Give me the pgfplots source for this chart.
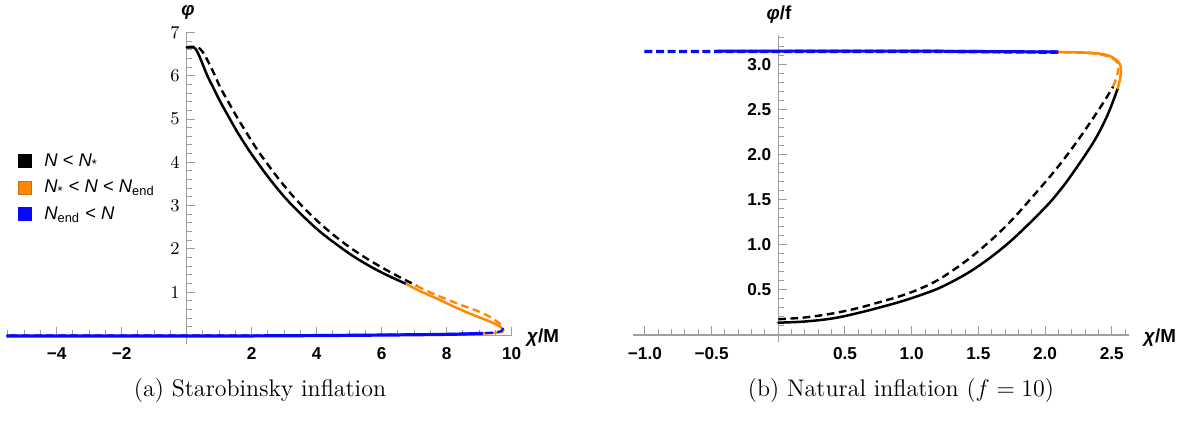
\documentclass[border=0pt]{standalone}
\usepackage{fontspec}
\usepackage{pgfplots}
\pgfplotsset{compat=1.18}
\newfontfamily\lsans{Liberation Sans}

\definecolor{morange}{RGB}{255,136,0}
\definecolor{morangeedge}{RGB}{205,105,20}
\definecolor{mblue}{RGB}{8,8,250}
\definecolor{axgray}{gray}{0.62}

\newcommand\ticksfont{\lsans\bfseries\fontsize{8.6}{10}\selectfont}
\newcommand\labfont{\lsans\bfseries\fontsize{9.4}{11}\selectfont}
\newcommand\legfont{\lsans\fontsize{9.2}{11}\selectfont}
\newcommand\legsquare[2]{\filldraw[line width=0.4pt, draw=#1, fill=#2] (0pt,-3.3pt) rectangle (6.6pt,3.3pt);}

\pgfplotsset{
  mma/.style={
    scale only axis,
    clip=false,
    axis lines=middle,
    axis line style={axgray, line width=0.6pt, -},
    tick style={axgray, line width=0.5pt},
    ticklabel style={font=\ticksfont, black},
    xticklabel style={yshift=-2.6pt},
    xlabel style={font=\labfont, anchor=center},
    ylabel style={font=\labfont, anchor=center, rotate=0},
    tick align=inside,
  },
  solidline/.style={line width=1.25pt, line join=round, line cap=round, smooth, tension=0.6},
  dashline/.style={line width=1.2pt, dash pattern=on 3.8pt off 2.3pt, smooth, tension=0.6},
}

\begin{document}
\begin{tikzpicture}
\path[use as bounding box] (0,0) rectangle (594pt,210.5pt);

% Starobinsky: trajectory in the (chi, phi) plane
\begin{axis}[mma,
  at={(3.15pt,38.6pt)}, anchor=south west,
  width=252.7pt, height=155.7pt,
  xmin=-5.55, xmax=10, ymin=-0.19, ymax=7,
  xtick={-4,-2,2,4,6,8,10},
  xticklabels={−4,−2,2,4,6,8,10},
  minor xtick={-5.5,-5,...,10},
  ytick={1,2,3,4,5,6,7},
  minor ytick={0.2,0.4,...,7},
  xlabel={\textit{χ}/M},
  xlabel style={at={(axis description cs:1.062,0.0186)}},
  ylabel={\textit{φ}},
  ylabel style={at={(axis description cs:0.3595,1.0627)}},
  legend style={at={(axis description cs:0.0215,0.628)}, anchor=north west,
    draw=none, fill=none, font=\legfont,
    row sep=0.6pt, inner sep=0pt,
    nodes={inner sep=2.4pt}},
  legend cell align=left,
]
\addlegendimage{legend image code/.code={\legsquare{black}{black}}}
\addlegendentry{\hspace{4pt}\textit{N} < \textit{N}\textsubscript{*}}
\addlegendimage{legend image code/.code={\legsquare{morangeedge}{morange}}}
\addlegendentry{\hspace{4pt}\textit{N}\textsubscript{*} < \textit{N} < \textit{N}\textsubscript{end}}
\addlegendimage{legend image code/.code={\legsquare{mblue}{mblue}}}
\addlegendentry{\hspace{4pt}\textit{N}\textsubscript{end} < \textit{N}}

% N < N_*
\addplot[black, solidline, forget plot] coordinates {
 (0,6.65) (0.22,6.65) (0.32,6.56) (0.43,6.38) (0.63,6.01) (0.84,5.69)
 (1.04,5.39) (1.30,5.04) (1.55,4.71) (1.81,4.40) (2.06,4.12) (2.57,3.60)
 (3.08,3.14) (3.59,2.75) (4.10,2.40) (4.62,2.10) (5.13,1.83) (5.64,1.60)
 (6.15,1.40) (6.76,1.19)};
\addplot[black, dashline, forget plot] coordinates {
 (0,6.66) (0.32,6.66) (0.48,6.56) (0.63,6.37) (0.84,6.05) (1.04,5.72)
 (1.30,5.37) (1.55,5.04) (1.86,4.66) (2.11,4.36) (2.37,4.08) (2.88,3.57)
 (3.39,3.12) (3.90,2.73) (4.41,2.39) (4.92,2.09) (5.43,1.83) (5.94,1.60)
 (6.45,1.39) (7.07,1.15)};
% N_* < N < N_end
\addplot[morange, solidline, forget plot] coordinates {
 (6.76,1.19) (7.17,1.03) (7.68,0.86) (8.19,0.68) (8.70,0.51) (9.21,0.36)
 (9.52,0.26) (9.67,0.19) (9.74,0.13) (9.72,0.09) (9.57,0.07) (9.31,0.055)
 (9.11,0.05)};
\addplot[morange, dashline, forget plot] coordinates {
 (7.07,1.15) (7.48,1.00) (7.99,0.84) (8.50,0.69) (9.01,0.55) (9.31,0.44)
 (9.52,0.34) (9.67,0.25) (9.74,0.17)};
% N_end < N
\addplot[mblue, line width=1.6pt, forget plot] coordinates {
 (9.11,0.05) (8.7,0.04) (8.2,0.03) (7.2,0.02) (6.1,0.012) (5.1,0.006)
 (4.1,0.0) (3.1,-0.004) (2,-0.008) (1,-0.01) (0,-0.01) (-2,-0.012)
 (-4,-0.012) (-5.55,-0.012)};
\addplot[mblue, line width=1.1pt, dash pattern=on 3.8pt off 2.3pt, forget plot] coordinates {
 (9.74,0.17) (9.68,0.10) (9.4,0.065) (9.0,0.05) (8,0.035) (6,0.015)
 (4,0.005) (2,0.0) (0,0.0) (-2,0.0) (-4,0.0) (-5.55,0.0)};
\end{axis}

% Natural inflation, f = 10
\begin{axis}[mma,
  at={(316.45pt,39.4pt)}, anchor=south west,
  width=248.1pt, height=153.45pt,
  xmin=-1.09, xmax=2.63, ymin=-0.08, ymax=3.33,
  xtick={-1,-0.5,0.5,1,1.5,2,2.5},
  xticklabels={−1.0,−0.5,0.5,1.0,1.5,2.0,2.5},
  minor xtick={-1.0,-0.9,...,2.6},
  ytick={0.5,1,1.5,2,2.5,3},
  yticklabels={0.5,1.0,1.5,2.0,2.5,3.0},
  minor ytick={0.1,0.2,...,3.3},
  xlabel={\textit{χ}/M},
  xlabel style={at={(axis description cs:1.062,0.0137)}},
  ylabel={\textit{φ}/f},
  ylabel style={at={(axis description cs:0.2944,1.066)}},
]
% N < N_*
\addplot[black, solidline] coordinates {
 (0,0.137) (0.2,0.15) (0.41,0.185) (0.6,0.245) (0.77,0.31) (0.92,0.372)
 (1.08,0.45) (1.24,0.545) (1.47,0.735) (1.72,1.015) (1.97,1.37) (2.1,1.585)
 (2.22,1.825) (2.37,2.16) (2.47,2.45) (2.545,2.74)};
\addplot[black, dashline] coordinates {
 (0,0.175) (0.2,0.195) (0.41,0.24) (0.6,0.30) (0.77,0.37) (0.92,0.435)
 (1.08,0.525) (1.24,0.65) (1.47,0.895) (1.72,1.23) (1.97,1.645) (2.1,1.875)
 (2.22,2.11) (2.37,2.43) (2.47,2.66) (2.51,2.76)};
% N_* < N < N_end
\addplot[morange, solidline] coordinates {
 (2.545,2.74) (2.565,2.87) (2.567,2.98) (2.545,3.04) (2.5,3.09)
 (2.45,3.115) (2.35,3.135) (2.2,3.142) (2.08,3.145)};
\addplot[morange, dashline] coordinates {
 (2.51,2.76) (2.535,2.86) (2.55,2.96) (2.545,3.02) (2.5,3.08)
 (2.42,3.115) (2.3,3.135) (2.1,3.142)};
% N_end < N
\addplot[mblue, line width=1.5pt] coordinates {
 (2.08,3.145) (1.5,3.15) (1.0,3.155) (0.5,3.155) (0,3.155) (-0.3,3.155)
 (-0.46,3.153)};
\addplot[mblue, line width=1.7pt, dash pattern=on 4pt off 1.8pt] coordinates {
 (2.1,3.142) (1.5,3.148) (1.0,3.152) (0.5,3.152) (0,3.15) (-0.5,3.15)
 (-1.015,3.15)};
\end{axis}

\node[font=\fontsize{12}{14}\selectfont] at (130pt,15pt) {(a) Starobinsky inflation};
\node[font=\fontsize{12}{14}\selectfont] at (450.5pt,15pt) {(b) Natural inflation ($f=10$)};
\end{tikzpicture}
\end{document}
